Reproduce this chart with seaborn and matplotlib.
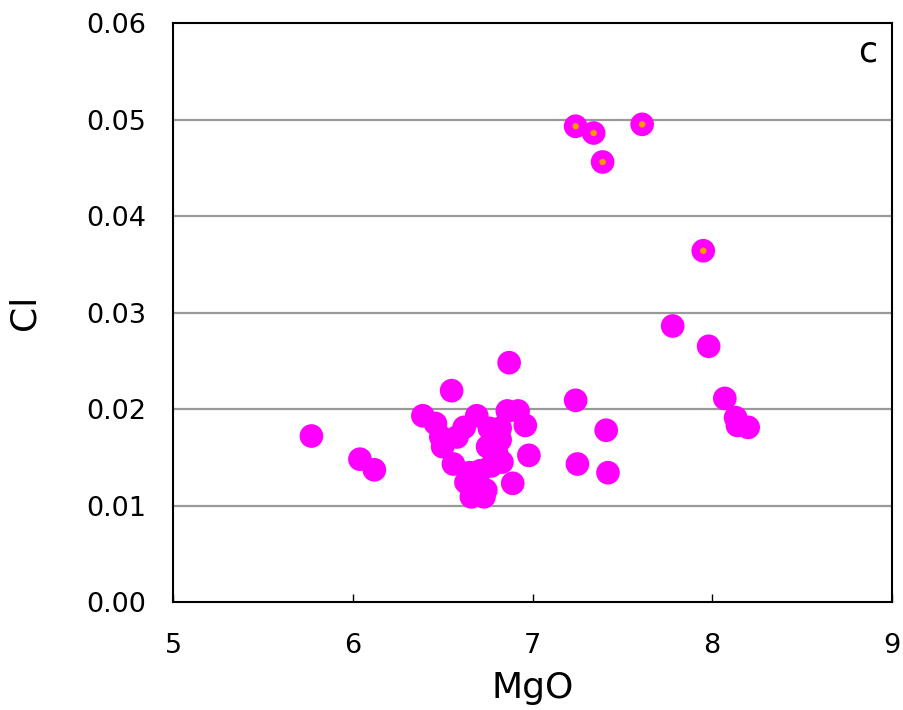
import matplotlib
matplotlib.use("Agg")
import matplotlib.pyplot as plt
import seaborn as sns
import pandas as pd

# Main group (plain magenta)
mgo_main = [5.77, 6.04, 6.12, 6.39, 6.46, 6.49, 6.50, 6.56, 6.58, 6.62, 6.63, 6.65,
            6.66, 6.69, 6.71, 6.73, 6.74, 6.75, 6.76, 6.77, 6.80, 6.82, 6.82, 6.83,
            6.86, 6.89, 6.92, 6.96, 6.98, 6.87, 6.55, 7.24, 7.25, 7.41, 7.42, 7.78,
            7.98, 8.07, 8.13, 8.14, 8.20]
cl_main = [0.0172, 0.0148, 0.0137, 0.0193, 0.0185, 0.0171, 0.0161, 0.0143, 0.0171,
           0.0181, 0.0124, 0.0134, 0.0109, 0.0193, 0.0136, 0.0109, 0.0116, 0.0161,
           0.0180, 0.0141, 0.0154, 0.0180, 0.0168, 0.0145, 0.0198, 0.0123, 0.0198,
           0.0183, 0.0152, 0.0248, 0.0219, 0.0209, 0.0143, 0.0178, 0.0134, 0.0286,
           0.0265, 0.0211, 0.0191, 0.0183, 0.0181]

# High-Cl group (magenta with orange centre)
mgo_high = [7.24, 7.34, 7.39, 7.61, 7.95]
cl_high = [0.0493, 0.0486, 0.0456, 0.0495, 0.0364]

x_ticks = [5, 6, 7, 8, 9]
y_ticks = [0.00, 0.01, 0.02, 0.03, 0.04, 0.05, 0.06]
y_tick_labels = ["0.00", "0.01", "0.02", "0.03", "0.04", "0.05", "0.06"]

df_main = pd.DataFrame({"MgO": mgo_main, "Cl": cl_main})
df_high = pd.DataFrame({"MgO": mgo_high, "Cl": cl_high})

sns.set_style("white")
plt.rcParams["font.family"] = ["DejaVu Sans"]
plt.rcParams["text.color"] = "black"
plt.rcParams["axes.labelcolor"] = "black"
plt.rcParams["xtick.color"] = "black"
plt.rcParams["ytick.color"] = "black"

fig = plt.figure(figsize=(9.04, 7.10), dpi=100)
ax = fig.add_axes([0.1914, 0.1521, 0.7953, 0.8155])

for y in y_ticks[1:-1]:
    ax.axhline(y, color="#999999", lw=1.6, zorder=0)

sns.scatterplot(data=df_main, x="MgO", y="Cl", ax=ax, s=290, color="#FF00FF",
                edgecolor="none", zorder=3)
sns.scatterplot(data=df_high, x="MgO", y="Cl", ax=ax, s=290, color="#FF00FF",
                edgecolor="none", zorder=3)
sns.scatterplot(data=df_high, x="MgO", y="Cl", ax=ax, s=22, color="#FF9900",
                edgecolor="none", zorder=4)

ax.set_xlim(5, 9)
ax.set_ylim(0, 0.06)
ax.set_xticks(x_ticks)
ax.set_xticklabels([str(v) for v in x_ticks])
ax.set_yticks(y_ticks)
ax.set_yticklabels(y_tick_labels)
ax.tick_params(axis="x", bottom=True, direction="in", length=6, width=1,
               labelsize=19.5, pad=22, color="black", labelcolor="black")
ax.tick_params(axis="y", left=False, labelsize=19.5, pad=16, labelcolor="black")

for sp in ax.spines.values():
    sp.set_color("black")
    sp.set_linewidth(1.5)
    sp.set_visible(True)

ax.set_xlabel("MgO", fontsize=26, labelpad=9, color="black")
ax.set_ylabel("Cl", fontsize=26, labelpad=32, color="black")
ax.text(0.98, 0.98, "c", transform=ax.transAxes, ha="right", va="top",
        fontsize=25, color="black")

fig.savefig("out.png", dpi=100)
